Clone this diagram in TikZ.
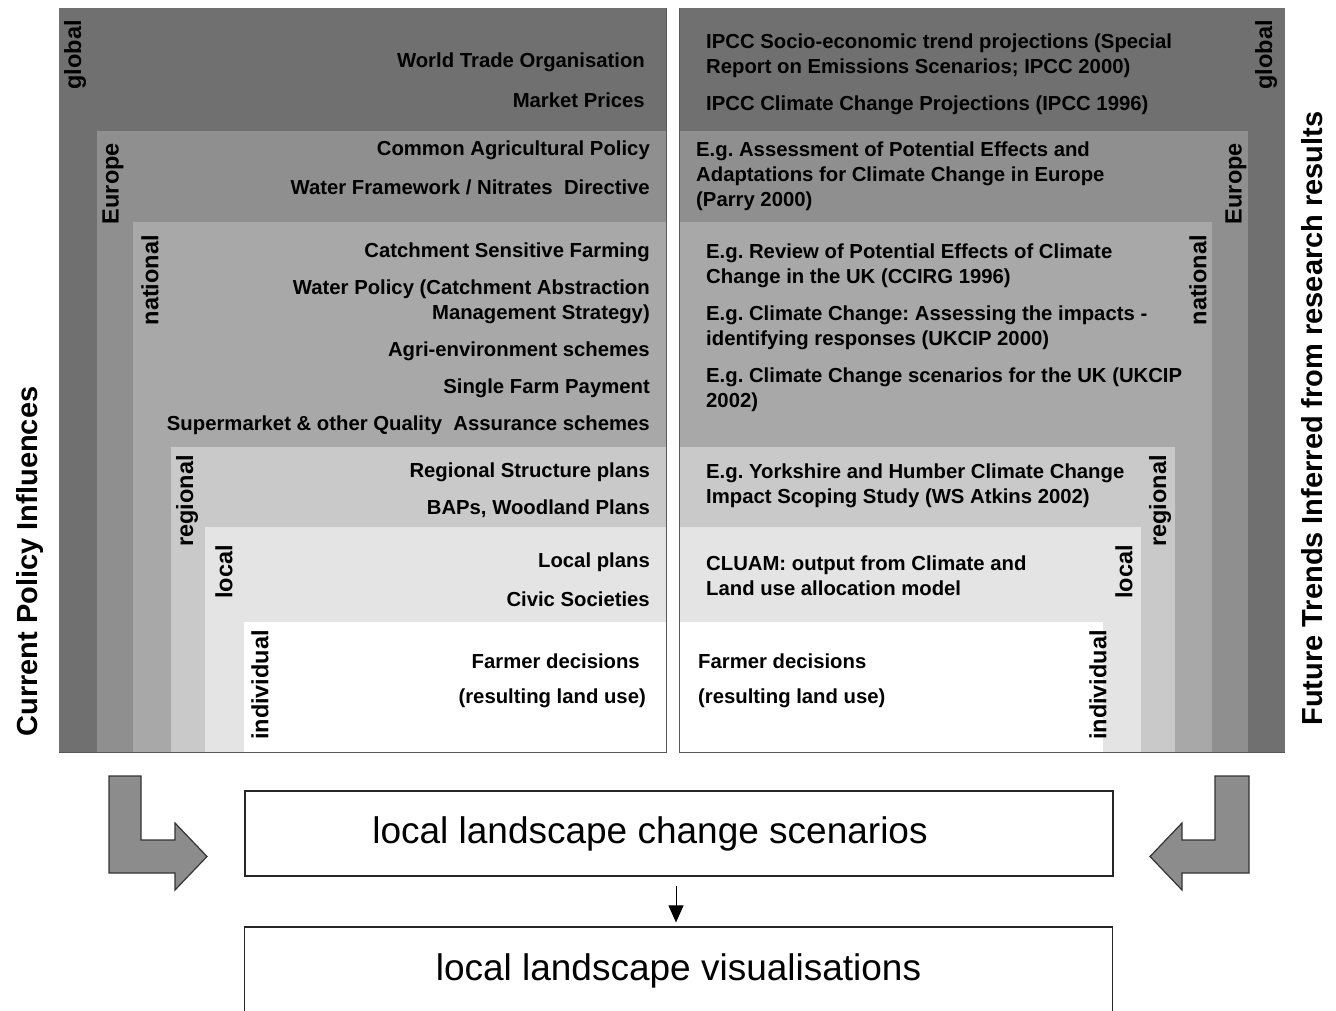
\documentclass[tikz,border=0pt]{standalone}
\usepackage{fontspec}
\setmainfont{Liberation Sans}
\usetikzlibrary{arrows.meta, positioning}
\frenchspacing

\definecolor{cglobal}{gray}{0.44}
\definecolor{ceurope}{gray}{0.56}
\definecolor{cnational}{gray}{0.66}
\definecolor{cregional}{gray}{0.79}
\definecolor{clocal}{gray}{0.895}
\definecolor{cframe}{gray}{0.35}
\definecolor{carrow}{gray}{0.55}

\begin{document}
\begin{tikzpicture}[x=1pt, y=-1pt,
    every node/.style={inner sep=0pt, font=\fontsize{20.3}{25}\selectfont\bfseries},
    lefttext/.style={anchor=east, align=right},
    righttext/.style={anchor=west, align=left},
    levellabel/.style={rotate=90, anchor=east, font=\fontsize{23.5}{25}\selectfont\bfseries},
    sidetitle/.style={rotate=90, font=\fontsize{29}{29}\selectfont\bfseries},
    bigbox/.style={draw=black!85, line width=1.2pt, minimum width=868pt, font=\fontsize{37}{37}\selectfont},
    bentarrow/.style={fill=carrow, draw=black!80, line width=1.2pt, line join=miter}]
    \useasboundingbox (0,0) rectangle (1336,1011);

    % Linkes Feld (Current Policy Influences)
    \fill[cglobal] (59,8) rectangle (666,752);
    \fill[ceurope] (97,131) rectangle (666,752);
    \fill[cnational] (133,222) rectangle (666,752);
    \fill[cregional] (171,447) rectangle (666,752);
    \fill[clocal] (205,527) rectangle (666,752);
    \fill[white] (244,622) rectangle (666,752);
    \draw[cframe, line width=1pt] (666,8) -- (666,752) -- (59,752);

    % Rechtes Feld (Future Trends)
    \fill[cglobal] (679,8) rectangle (1285,752);
    \fill[ceurope] (679,131) rectangle (1248,752);
    \fill[cnational] (679,222) rectangle (1212,752);
    \fill[cregional] (679,447) rectangle (1175,752);
    \fill[clocal] (679,527) rectangle (1141,752);
    \fill[white] (679,622) rectangle (1103,752);
    \draw[cframe, line width=1pt] (679,8) -- (679,752) -- (1285,752);

    % Ebenen links
    \node[levellabel] (lglobal) at (75,20) {global};
    \node[levellabel] (leurope) at (113,143) {Europe};
    \node[levellabel] (lnational) at (150,235) {national};
    \node[levellabel] (lregional) at (187,455) {regional};
    \node[levellabel] (llocal) at (224,545) {local};
    \node[levellabel] (lindividual) at (260,630) {individual};

    % Ebenen rechts
    \node[levellabel] (rglobal) at (1266,20) {global};
    \node[levellabel] (reurope) at (1236,143) {Europe};
    \node[levellabel] (rnational) at (1198,235) {national};
    \node[levellabel] (rregional) at (1160,455) {regional};
    \node[levellabel] (rlocal) at (1124,545) {local};
    \node[levellabel] (rindividual) at (1098,630) {individual};

    % Texte links
    \node[lefttext] (wto) at (645,62) {World Trade Organisation};
    \node[lefttext] (market) at (645,100) {Market Prices};
    \node[lefttext] (cap) at (650,150) {Common Agricultural Policy};
    \node[lefttext] (wfd) at (650,187) {Water Framework / Nitrates\ \ Directive};
    \node[lefttext] (csf) at (650,252) {Catchment Sensitive Farming};
    \node[lefttext] (wpol) at (650,301.5) {Water Policy (Catchment Abstraction\\Management Strategy)};
    \node[lefttext] (agri) at (650,351) {Agri-environment schemes};
    \node[lefttext] (sfp) at (650,388) {Single Farm Payment};
    \node[lefttext] (qas) at (650,425) {Supermarket \& other Quality\ \ Assurance schemes};
    \node[lefttext] (rsp) at (650,472) {Regional Structure plans};
    \node[lefttext] (baps) at (650,509) {BAPs, Woodland Plans};
    \node[lefttext] (lplans) at (650,562) {Local plans};
    \node[lefttext] (civic) at (650,599) {Civic Societies};
    \node[lefttext] (lfarmer) at (640,661) {Farmer decisions};
    \node[lefttext] (lland) at (646,698) {(resulting land use)};

    % Texte rechts
    \node[righttext] (sres) at (706,56) {IPCC Socio-economic trend projections (Special\\Report on Emissions Scenarios; IPCC 2000)};
    \node[righttext] (ipcc) at (706,105) {IPCC Climate Change Projections (IPCC 1996)};
    \node[righttext] (parry) at (696,176) {E.g. Assessment of Potential Effects and\\Adaptations for Climate Change in Europe\\(Parry 2000)};
    \node[righttext] (ccirg) at (706,265.5) {E.g. Review of Potential Effects of Climate\\Change in the UK (CCIRG 1996)};
    \node[righttext] (ukcip) at (706,327.5) {E.g. Climate Change: Assessing the impacts -\\identifying responses (UKCIP 2000)};
    \node[righttext] (ukscen) at (706,389.5) {E.g. Climate Change scenarios for the UK (UKCIP\\2002)};
    \node[righttext] (yorks) at (706,485.5) {E.g. Yorkshire and Humber Climate Change\\Impact Scoping Study (WS Atkins 2002)};
    \node[righttext] (cluam) at (706,575.5) {CLUAM: output from Climate and\\Land use allocation model};
    \node[righttext] (rfarmer) at (698,661) {Farmer decisions};
    \node[righttext] (rland) at (698,698) {(resulting land use)};

    % Seitentitel
    \node[sidetitle] (current) at (30,561.5) {Current Policy Influences};
    \node[sidetitle] (future) at (1312,418.5) {Future Trends Inferred from research results};

    % Kaesten unten
    \node[bigbox, minimum height=85pt,
      label={[font=\fontsize{37}{37}\selectfont, xshift=-29pt]center:local landscape change scenarios}]
      (scen) at (679,833.5) {};
    \node[bigbox, minimum height=88pt] (vis) at (678.5,971) {local landscape visualisations};
    \draw[-{Triangle[length=17pt, width=15pt]}, line width=1pt, shorten <=9pt, shorten >=4pt]
      ([xshift=-3pt]scen.south) -- ([xshift=-2.5pt]vis.north);

    % Gebogene Pfeile
    \draw[bentarrow] (109,776) -- (141,776) -- (141,840) -- (175,840) -- (175,823)
      -- (207,856.5) -- (175,890) -- (175,873) -- (109,873) -- cycle;
    \draw[bentarrow] (1249,776) -- (1215,776) -- (1215,840) -- (1182,840) -- (1182,823)
      -- (1150,856.5) -- (1182,890) -- (1182,873) -- (1249,873) -- cycle;
\end{tikzpicture}
\end{document}
